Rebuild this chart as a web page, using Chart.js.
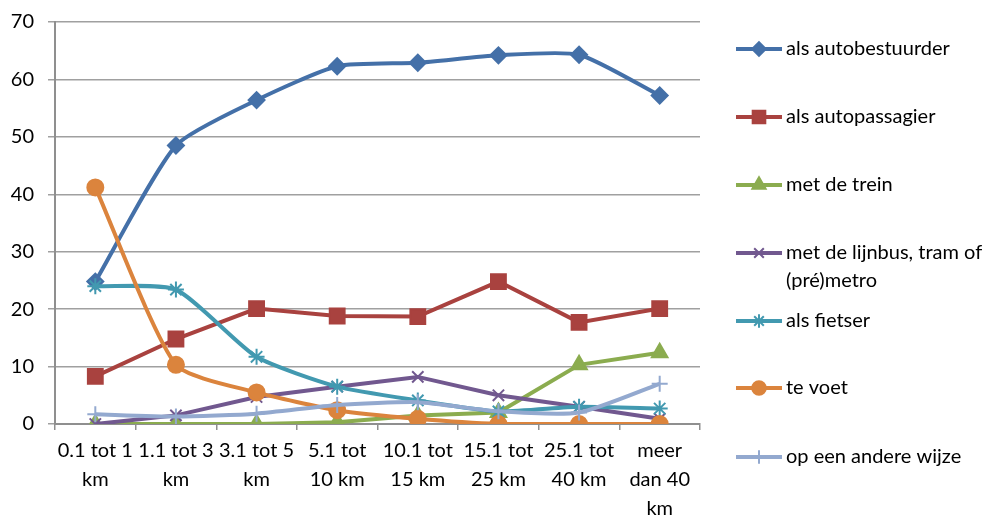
<!DOCTYPE html>
<html>
<head>
<meta charset="utf-8">
<script src="https://cdn.jsdelivr.net/npm/chart.js@4/dist/chart.umd.min.js"></script>
<style>
  html, body { margin: 0; padding: 0; background: #fff; }
  #wrap { width: 997px; height: 516px; }
</style>
</head>
<body>
<div id="wrap"><canvas id="modalChart"></canvas></div>
<script>
const categories = [
  ["0.1 tot 1", "km"], ["1.1 tot 3", "km"], ["3.1 tot 5", "km"], ["5.1 tot", "10 km"],
  ["10.1 tot", "15 km"], ["15.1 tot", "25 km"], ["25.1 tot", "40 km"], ["meer", "dan 40", "km"]
];
const yTicks = [0, 10, 20, 30, 40, 50, 60, 70];

const autobestuurder = [24.8, 48.5, 56.4, 62.3, 62.9, 64.2, 64.3, 57.2];
const autopassagier  = [8.3, 14.8, 20.1, 18.8, 18.7, 24.8, 17.7, 20.1];
const trein          = [0, 0, 0, 0.3, 1.5, 2.0, 10.3, 12.4];
const lijnbus        = [0, 1.5, 4.7, 6.5, 8.2, 5.0, 3.0, 0.9];
const fietser        = [24.0, 23.4, 11.7, 6.5, 4.1, 2.2, 3.0, 2.7];
const teVoet         = [41.2, 10.3, 5.5, 2.4, 0.9, 0, 0, 0];
const andereWijze    = [1.7, 1.3, 1.8, 3.3, 3.8, 2.2, 2.0, 7.0];

const FONT = "Lato, 'Open Sans', sans-serif";

const series = [
  { label: ["als autobestuurder"], data: autobestuurder, color: "#4470a8", style: "rectRot", radius: 8, tension: 0.2 },
  { label: ["als autopassagier"], data: autopassagier, color: "#a9423f", style: "rect", radius: 10.5, tension: 0 },
  { label: ["met de trein"], data: trein, color: "#8bac4f", style: "triangle", radius: 9, tension: 0 },
  { label: ["met de lijnbus, tram of", "(pré)metro"], data: lijnbus, color: "#71588f", style: "crossRot", radius: 8, tension: 0 },
  { label: ["als fietser"], data: fietser, color: "#4299b0", style: "star", radius: 8, tension: 0.2 },
  { label: ["te voet"], data: teVoet, color: "#db843d", style: "circle", radius: 8, tension: 0.2 },
  { label: ["op een andere wijze"], data: andereWijze, color: "#93a9cf", style: "cross", radius: 8, tension: 0.2 }
];

const legendRows = [49, 117, 185, 253, 321, 388, 457];

// legend on the right, drawn by hand so the long label can wrap
const sideLegend = {
  id: "sideLegend",
  afterDraw(chart) {
    const ctx = chart.ctx;
    ctx.save();
    ctx.font = "20px " + FONT;
    ctx.textBaseline = "middle";
    series.forEach((s, i) => {
      const y = legendRows[i];
      ctx.strokeStyle = s.color;
      ctx.lineWidth = 4;
      ctx.beginPath();
      ctx.moveTo(736, y);
      ctx.lineTo(782, y);
      ctx.stroke();
      ctx.fillStyle = s.color;
      ctx.lineWidth = 2;
      Chart.helpers.drawPoint(ctx, { pointStyle: s.style, radius: s.radius * 0.85, borderWidth: 2, rotation: 0 }, 759, y);
      ctx.fillStyle = "#000";
      s.label.forEach((t, k) => ctx.fillText(t, 786, y + k * 28));
    });
    ctx.restore();
  }
};

const ctx = document.getElementById("modalChart").getContext("2d");

const modalChart = new Chart(ctx, {
  type: "line",
  data: {
    labels: categories,
    datasets: series.map((s, i) => ({
      label: s.label.join(" "),
      data: s.data,
      borderColor: s.color,
      backgroundColor: s.color,
      borderWidth: 4,
      tension: s.tension,
      pointStyle: s.style,
      pointRadius: s.radius,
      pointBackgroundColor: s.color,
      pointBorderColor: s.color,
      pointBorderWidth: 2,
      order: series.length - i
    }))
  },
  options: {
    responsive: true,
    maintainAspectRatio: false,
    animation: false,
    layout: { padding: { top: 0, right: 297, left: 0, bottom: 0 } },
    plugins: { legend: { display: false }, tooltip: { enabled: false } },
    scales: {
      x: {
        offset: true,
        grid: { offset: true, drawOnChartArea: false, color: "#8f8f8f", lineWidth: 1.5, tickLength: 6 },
        border: { color: "#8f8f8f", width: 2 },
        ticks: { color: "#000", font: { family: FONT, size: 20, lineHeight: 1.45 }, padding: 6, maxRotation: 0, autoSkip: false },
        afterFit(scale) { scale.height = 92; }
      },
      y: {
        min: 0,
        max: 70,
        afterBuildTicks(scale) { scale.ticks = yTicks.map(v => ({ value: v })); },
        grid: { color: "#a0a0a0", lineWidth: 1.5, tickLength: 7 },
        border: { color: "#8f8f8f", width: 2 },
        ticks: { color: "#000", font: { family: FONT, size: 20, lineHeight: 0.8 }, padding: 14 },
        afterFit(scale) { scale.width = 55; }
      }
    }
  },
  plugins: [sideLegend]
});
</script>
</body>
</html>
